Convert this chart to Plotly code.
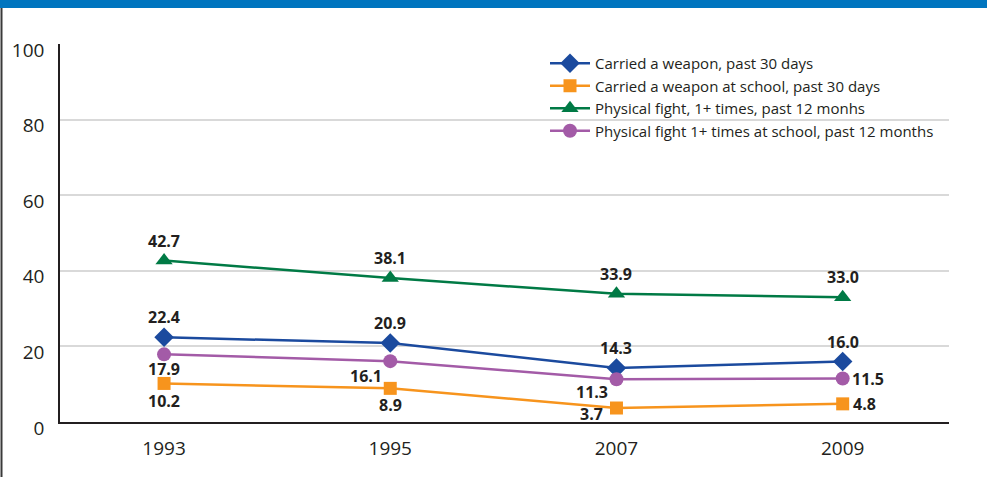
import plotly.graph_objects as go

# Survey years and prevalence (%) for each behaviour
years = ["1993", "1995", "2007", "2009"]
weapon = [22.4, 20.9, 14.3, 16.0]
weapon_school = [10.2, 8.9, 3.7, 4.8]
fight = [42.7, 38.1, 33.9, 33.0]
fight_school = [17.9, 16.1, 11.3, 11.5]

y_ticks = [0, 20, 40, 60, 80, 100]

series = [
    ("Carried a weapon, past 30 days", weapon, "#1B4A9E", "diamond", 15),
    ("Carried a weapon at school, past 30 days", weapon_school, "#F7941D", "square", 13),
    ("Physical fight, 1+ times, past 12 monhs", fight, "#007A45", "triangle-up", 15),
    ("Physical fight 1+ times at school, past 12 months", fight_school, "#A35BA7", "circle", 14),
]

# label offsets (px) per series, per year
offsets = {
    "weapon": [(0, 20), (0, 20), (0, 20), (0, 20)],
    "weapon_school": [(0, -18), (0, -17), (-25, -6), (22, 0)],
    "fight": [(0, 20), (0, 20), (0, 20), (0, 20)],
    "fight_school": [(0, -15), (-24, -15), (-24, -13), (25, 0)],
}
keys = ["weapon", "weapon_school", "fight", "fight_school"]

fig = go.Figure()
annotations = []
for (name, vals, color, symbol, size), key in zip(series, keys):
    fig.add_trace(go.Scatter(
        x=years, y=vals, name=name, mode="lines+markers",
        line=dict(color=color, width=2.5),
        marker=dict(symbol=symbol, size=size, color=color),
    ))
    for i, (v, (dx, dy)) in enumerate(zip(vals, offsets[key])):
        # category axis: annotation x given as the category index
        annotations.append(dict(
            x=i, y=v, xref="x", yref="y", text=f"<b>{v:.1f}</b>", showarrow=False,
            xshift=dx, yshift=dy,
            font=dict(family="Open Sans", size=16, color="#231F20"),
        ))

L, T, R, B = 60, 44, 38, 55
W, H = 987, 477
pw, ph = W - L - R, H - T - B

def px_x(p):
    return (p - L) / pw

def px_y(p):
    return (H - B - p) / ph

shapes = [
    # top banner
    dict(type="rect", xref="paper", yref="paper", x0=px_x(0), x1=px_x(W),
         y0=px_y(8), y1=px_y(0), fillcolor="#0075BF", line=dict(width=0), layer="above"),
    # left frame line
    dict(type="line", xref="paper", yref="paper", x0=px_x(1.5), x1=px_x(1.5),
         y0=px_y(8), y1=px_y(W), line=dict(color="#3a3a3a", width=2)),
]

fig.update_layout(
    width=W, height=H,
    margin=dict(l=L, r=R, t=T, b=B),
    paper_bgcolor="white", plot_bgcolor="white",
    font=dict(family="Open Sans", color="#231F20"),
    showlegend=True,
    legend=dict(
        x=px_x(545), y=px_y(47), xanchor="left", yanchor="top",
        bgcolor="rgba(0,0,0,0)", font=dict(size=15, color="#231F20"),
        tracegroupgap=0, itemwidth=40,
    ),
    xaxis=dict(
        type="category", range=[-0.46, 3.47],
        showgrid=False, showline=True, linecolor="#231F20", linewidth=1.5,
        ticks="", tickfont=dict(size=19), zeroline=False,
        ticklabelstandoff=8,
    ),
    yaxis=dict(
        range=[0, 100], tickvals=y_ticks, ticktext=[str(t) for t in y_ticks],
        showgrid=True, gridcolor="#D9D9D9", gridwidth=1.5,
        showline=True, linecolor="#231F20", linewidth=1.5,
        ticks="", tickfont=dict(size=19), zeroline=False,
        ticklabelstandoff=10, ticklabelshift=6,
    ),
    annotations=annotations,
    shapes=shapes,
)

fig.write_html("out.html")
